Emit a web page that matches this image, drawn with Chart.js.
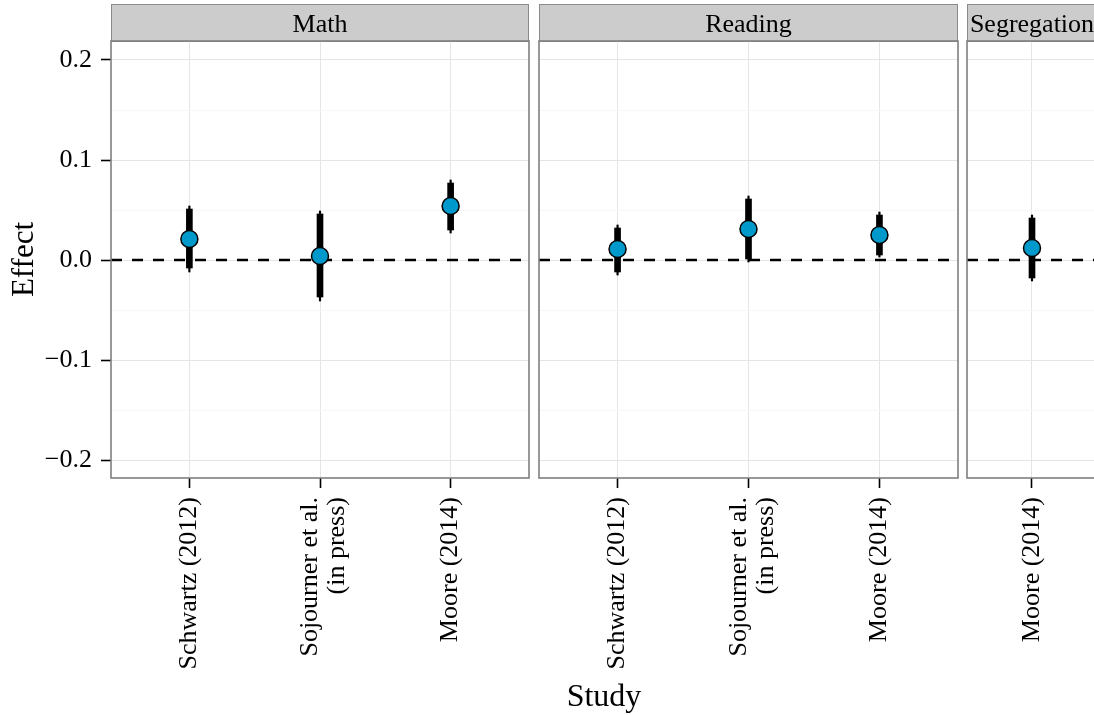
<!DOCTYPE html>
<html><head><meta charset="utf-8">
<script src="https://cdn.jsdelivr.net/npm/chart.js@4/dist/chart.umd.min.js"></script>
<style>
html,body{margin:0;padding:0;background:#fff;overflow:hidden;}
#wrap{position:relative;width:1094px;height:715px;overflow:hidden;background:#fff;}
canvas{position:absolute;top:0;}
#xt{position:absolute;left:454px;width:300px;top:679px;text-align:center;font-family:"Liberation Serif",serif;font-size:32px;line-height:32px;color:#000;}
</style></head><body>
<div id="wrap">
<canvas id="c0"></canvas><canvas id="c1"></canvas><canvas id="c2"></canvas>
<div id="xt">Study</div>
</div>
<script>
// ---- data ----
const panelNames = ['Math', 'Reading', 'Segregation'];
const mathStudies = [['Schwartz (2012)'], ['Sojourner et al.', '(in press)'], ['Moore (2014)']];
const mathEffect = [0.021, 0.004, 0.054];
const mathLow90  = [-0.008, -0.037, 0.030];
const mathHigh90 = [0.051, 0.046, 0.077];
const mathLow95  = [-0.012, -0.041, 0.027];
const mathHigh95 = [0.054, 0.049, 0.080];

const readingStudies = [['Schwartz (2012)'], ['Sojourner et al.', '(in press)'], ['Moore (2014)']];
const readingEffect = [0.011, 0.031, 0.025];
const readingLow90  = [-0.012, 0.001, 0.005];
const readingHigh90 = [0.032, 0.061, 0.045];
const readingLow95  = [-0.015, -0.002, 0.003];
const readingHigh95 = [0.035, 0.064, 0.048];

const segStudies = [['Moore (2014)']];
const segEffect = [0.012];
const segLow90  = [-0.018];
const segHigh90 = [0.042];
const segLow95  = [-0.021];
const segHigh95 = [0.045];

const yTicks = [-0.2, -0.15, -0.1, -0.05, 0, 0.05, 0.1, 0.15, 0.2];
const yTickLabels = ['\u22120.2', '', '\u22120.1', '', '0.0', '', '0.1', '', '0.2'];
const yMajor = [true, false, true, false, true, false, true, false, true];
const referenceLine = 0;

// ---- drawing ----
const FONT = 'Liberation Serif';

function panelPlugin(name) {
  return {
    id: 'panel_' + name,
    beforeDraw(chart) {
      const ctx = chart.ctx, a = chart.chartArea;
      // centre multi-line tick labels on their tick, as ggplot does
      const items = chart.scales.x.getLabelItems(a);
      items.forEach(it => {
        if (Array.isArray(it.label) && it.label.length > 1 && !it._shifted) {
          const lh = it.font.lineHeight;
          it.options.translation[0] -= (it.label.length - 1) * lh * 0.36;
          it._shifted = true;
        }
      });
      ctx.save();
      ctx.fillStyle = '#cccccc';
      ctx.fillRect(a.left, 4, a.right - a.left, a.top - 4);
      ctx.strokeStyle = '#8a8a8a';
      ctx.lineWidth = 1;
      ctx.strokeRect(a.left + 0.5, 4.5, a.right - a.left - 1, a.top - 4);
      ctx.fillStyle = '#000';
      ctx.font = '26px "' + FONT + '"';
      ctx.textAlign = 'center';
      ctx.textBaseline = 'alphabetic';
      ctx.fillText(name, (a.left + a.right) / 2, 32);
      ctx.restore();
    },
    afterDraw(chart) {
      const ctx = chart.ctx, a = chart.chartArea;
      ctx.save();
      ctx.strokeStyle = '#7f7f7f';
      ctx.lineWidth = 1.6;
      ctx.strokeRect(a.left, a.top, a.right - a.left, a.bottom - a.top);
      ctx.restore();
    }
  };
}

function makePanel(id, name, studies, eff, lo90, hi90, lo95, hi95, plotLeft, plotRight, showAxis) {
  const axisW = showAxis ? 111 : 2;
  const left = plotLeft - axisW;
  const width = plotRight - left + 3;
  const cv = document.getElementById(id);
  cv.width = width; cv.height = 715;
  cv.style.left = left + 'px';
  cv.style.width = width + 'px'; cv.style.height = '715px';
  const n = studies.length;
  const xs = studies.map((_, i) => i + 1);
  new Chart(cv, {
    type: 'scatter',
    data: {
      datasets: [
        { type: 'scatter', data: xs.map((x, i) => ({ x: x, y: eff[i] })),
          pointRadius: 8.5, pointHoverRadius: 8.5, pointBackgroundColor: '#0099cc',
          pointBorderColor: '#000', pointBorderWidth: 1.5, order: 0 },
        { type: 'bar', data: xs.map((x, i) => ({ x: x, y: [lo90[i], hi90[i]] })),
          backgroundColor: '#000', borderWidth: 0, barThickness: 6, grouped: false, order: 1 },
        { type: 'bar', data: xs.map((x, i) => ({ x: x, y: [lo95[i], hi95[i]] })),
          backgroundColor: '#000', borderWidth: 0, barThickness: 1.5, grouped: false, order: 2 },
        { type: 'line', data: [{ x: 0.4, y: referenceLine }, { x: n + 0.6, y: referenceLine }],
          borderColor: '#000', borderWidth: 2.4, borderDash: [11, 10], pointRadius: 0,
          tension: 0, fill: false, order: 3 }
      ]
    },
    options: {
      responsive: false, animation: false, devicePixelRatio: 1,
      layout: { autoPadding: false, padding: { left: 0, right: 3, top: 41, bottom: 0 } },
      plugins: { legend: { display: false }, tooltip: { enabled: false }, title: { display: false } },
      scales: {
        x: {
          type: 'linear', min: 0.4, max: n + 0.6, offset: false,
          afterBuildTicks: s => { s.ticks = xs.map(v => ({ value: v })); },
          afterFit: s => { s.height = 237; s.paddingLeft = 0; s.paddingRight = 0; },
          grid: { offset: false, color: '#e5e5e5', lineWidth: 1, tickColor: '#000',
                  tickLength: 10, tickWidth: 1.6, drawTicks: true },
          border: { display: false },
          ticks: { autoSkip: false, minRotation: 90, maxRotation: 90, padding: 9, color: '#000',
                   font: { family: FONT, size: 26, lineHeight: 1.05 },
                   callback: (v, i) => studies[i] }
        },
        y: {
          type: 'linear', min: -0.218, max: 0.219,
          afterBuildTicks: s => { s.ticks = yTicks.map(v => ({ value: v })); },
          afterFit: s => { s.width = axisW; s.paddingTop = 0; s.paddingBottom = 0; },
          grid: {
            color: c => (yMajor[c.index] ? '#e5e5e5' : '#f7f7f7'), lineWidth: 1,
            tickColor: c => (yMajor[c.index] ? '#000' : 'rgba(0,0,0,0)'),
            tickLength: 10, tickWidth: 1.6, drawTicks: showAxis
          },
          border: { display: false },
          ticks: { display: showAxis, color: '#000', padding: 9,
                   font: { family: FONT, size: 26 }, callback: (v, i) => yTickLabels[i] },
          title: { display: showAxis, text: 'Effect', color: '#000',
                   font: { family: FONT, size: 31 }, padding: { top: 6, bottom: 0 } }
        }
      }
    },
    plugins: [panelPlugin(name)]
  });
}

makePanel('c0', panelNames[0], mathStudies, mathEffect, mathLow90, mathHigh90, mathLow95, mathHigh95, 111, 529, true);
makePanel('c1', panelNames[1], readingStudies, readingEffect, readingLow90, readingHigh90, readingLow95, readingHigh95, 539, 958, false);
makePanel('c2', panelNames[2], segStudies, segEffect, segLow90, segHigh90, segLow95, segHigh95, 967, 1097, false);
</script>
</body></html>
